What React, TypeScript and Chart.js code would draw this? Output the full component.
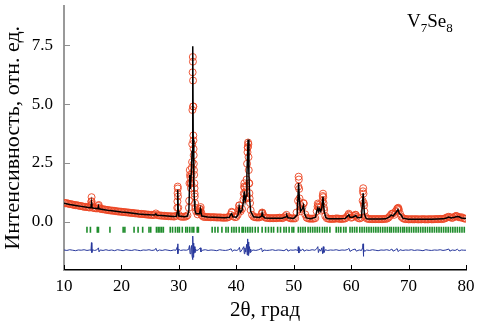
import React, { useEffect, useRef } from 'react';
import { Chart, registerables } from 'chart.js';
Chart.register(...registerables);

// Observed pattern: start/step grid (2θ from 10°, step 0.25°), intensities in rel. units
const obsStart = 10;
const obsStep = 0.25;
const obsGrid = [
  0.81, 0.79, 0.80, 0.77, 0.76, 0.75, 0.74, 0.72, 0.71, 0.71, 0.69, 0.68, 0.67, 0.66, 0.64, 0.64,
  0.63, 0.62, 0.61, 0.85, 0.60, 0.59, 0.58, 0.57, 0.68, 0.56, 0.55, 0.54, 0.53, 0.52, 0.51, 0.50,
  0.49, 0.48, 0.48, 0.47, 0.46, 0.45, 0.44, 0.44, 0.43, 0.42, 0.42, 0.41, 0.40, 0.40, 0.39, 0.38,
  0.38, 0.37, 0.36, 0.36, 0.35, 0.34, 0.34, 0.33, 0.33, 0.32, 0.31, 0.31, 0.30, 0.30, 0.29, 0.30,
  0.36, 0.29, 0.28, 0.27, 0.27, 0.26, 0.26, 0.25, 0.25, 0.24, 0.24, 0.24, 0.23, 0.23, 0.26, 0.87,
  0.30, 0.23, 0.22, 0.22, 0.22, 0.23, 0.28, 0.60, 1.90, 2.30, 4.90, 1.20, 0.45, 0.32, 0.40, 0.55,
  0.28, 0.22, 0.21, 0.21, 0.21, 0.20, 0.20, 0.20, 0.20, 0.20, 0.19, 0.19, 0.19, 0.19, 0.18, 0.18,
  0.18, 0.18, 0.19, 0.22, 0.30, 0.40, 0.24, 0.20, 0.21, 0.30, 0.70, 0.45, 0.55, 0.95, 1.20, 1.50,
  3.17, 1.64, 0.50, 0.30, 0.22, 0.20, 0.19, 0.19, 0.19, 0.22, 0.40, 0.26, 0.19, 0.17, 0.17, 0.16,
  0.16, 0.16, 0.16, 0.16, 0.16, 0.17, 0.18, 0.17, 0.16, 0.18, 0.24, 0.30, 0.21, 0.17, 0.15, 0.15,
  0.15, 0.15, 0.40, 0.90, 1.00, 0.45, 0.62, 0.78, 0.32, 0.18, 0.15, 0.14, 0.14, 0.14, 0.14, 0.16,
  0.45, 0.72, 0.60, 0.48, 0.90, 0.60, 0.25, 0.16, 0.14, 0.13, 0.13, 0.13, 0.13, 0.14, 0.15, 0.14,
  0.13, 0.13, 0.13, 0.14, 0.15, 0.22, 0.30, 0.28, 0.18, 0.20, 0.26, 0.30, 0.22, 0.16, 0.15, 0.18,
  0.90, 0.70, 0.22, 0.14, 0.13, 0.12, 0.12, 0.12, 0.12, 0.12, 0.12, 0.12, 0.12, 0.12, 0.12, 0.13,
  0.13, 0.14, 0.18, 0.25, 0.33, 0.35, 0.30, 0.45, 0.55, 0.55, 0.35, 0.22, 0.16, 0.13, 0.12, 0.12,
  0.11, 0.11, 0.12, 0.11, 0.11, 0.12, 0.11, 0.11, 0.11, 0.11, 0.12, 0.11, 0.11, 0.11, 0.11, 0.12,
  0.11, 0.11, 0.12, 0.12, 0.12, 0.12, 0.13, 0.12, 0.13, 0.14, 0.17, 0.20, 0.22, 0.20, 0.17, 0.18,
  0.22, 0.25, 0.23, 0.20, 0.19, 0.20, 0.16, 0.14, 0.14,
];

// Extra observed points recorded across the Bragg peaks [2θ, I]
const obsPeakPoints: [number, number][] = [
  [14.7, 0.70], [14.8, 1.05], [14.8, 0.88], [14.85, 0.75],
  [16.05, 0.72], [16.1, 0.60],
  [29.72, 0.60], [29.78, 1.22], [29.8, 1.50], [29.82, 1.42], [29.85, 1.08], [29.9, 0.60],
  [31.8, 0.90], [31.85, 1.64], [31.9, 2.20], [31.95, 2.00], [32.05, 1.64], [32.1, 1.43], [32.15, 1.64], [32.2, 2.0],
  [32.3, 2.54], [32.33, 3.30], [32.36, 4.75], [32.4, 6.35], [32.43, 7.00], [32.45, 6.80], [32.47, 6.00],
  [32.5, 4.90], [32.52, 3.67], [32.54, 3.46], [32.56, 3.10], [32.58, 2.83], [32.6, 2.47], [32.63, 2.20],
  [32.66, 2.00], [32.7, 1.64], [32.73, 1.43], [32.77, 1.08], [32.82, 0.80], [32.9, 0.60],
  [33.5, 0.45], [33.6, 0.55], [33.7, 0.45], [33.8, 0.63], [33.9, 0.40],
  [39.2, 0.43],
  [40.45, 0.55], [40.55, 0.70], [40.6, 0.50],
  [41.3, 1.20], [41.35, 1.50], [41.4, 1.64], [41.45, 1.45], [41.6, 1.00], [41.7, 1.30], [41.8, 1.80],
  [41.88, 2.47], [41.95, 2.96], [42.0, 3.17], [42.05, 3.37], [42.1, 3.30], [42.13, 2.75], [42.17, 2.20],
  [42.22, 1.64], [42.28, 1.22], [42.33, 1.00], [42.4, 0.80],
  [44.45, 0.35], [44.55, 0.38],
  [50.8, 1.50], [50.85, 1.92], [50.9, 1.80], [50.95, 1.40], [51.05, 0.75], [51.1, 0.54], [51.7, 0.80],
  [54.15, 0.65], [54.2, 0.78], [54.3, 0.62],
  [55.05, 1.10], [55.1, 1.20], [55.15, 1.05], [55.2, 0.80], [55.3, 0.50],
  [59.6, 0.35], [60.8, 0.30],
  [62.05, 1.30], [62.1, 1.43], [62.15, 1.20], [62.2, 0.80], [62.3, 0.45],
  [67.2, 0.36], [68.1, 0.58], [68.2, 0.60], [68.3, 0.50],
  [78.3, 0.25],
];

// Calculated profile [2θ, I]
const calcProfile: [number, number][] = [
  [10, 0.79], [11, 0.74], [12, 0.70], [13, 0.66], [14, 0.62], [14.6, 0.60], [14.7, 0.62], [14.78, 0.80],
  [14.86, 0.62], [15, 0.59], [15.9, 0.56], [16.0, 0.66], [16.1, 0.56], [17, 0.52], [18, 0.48], [19, 0.45],
  [20, 0.42], [21, 0.40], [22, 0.37], [23, 0.34], [24, 0.32], [25, 0.30], [25.8, 0.29], [26.0, 0.34],
  [26.2, 0.28], [27, 0.27], [28, 0.25], [29, 0.23], [29.6, 0.24], [29.7, 0.4], [29.8, 1.37], [29.9, 0.45],
  [30.0, 0.25], [31, 0.22], [31.5, 0.25], [31.75, 0.5], [31.9, 2.0], [32.0, 1.4], [32.2, 2.2], [32.3, 3.0],
  [32.42, 7.45], [32.5, 3.5], [32.6, 1.6], [32.7, 0.9], [32.8, 0.5], [33.0, 0.35], [33.6, 0.35], [33.75, 0.55],
  [33.85, 0.4], [34.0, 0.25], [35, 0.21], [36, 0.2], [37, 0.19], [38, 0.18], [38.8, 0.2], [39.0, 0.3],
  [39.2, 0.35], [39.4, 0.22], [40.0, 0.2], [40.3, 0.3], [40.5, 0.65], [40.7, 0.4], [41.0, 0.5], [41.2, 0.8],
  [41.4, 1.3], [41.55, 0.9], [41.7, 1.1], [41.85, 2.0], [42.05, 3.5], [42.2, 2.0], [42.35, 0.9], [42.5, 0.45],
  [43, 0.22], [44, 0.19], [44.4, 0.25], [44.5, 0.38], [44.6, 0.25], [45, 0.17], [46, 0.16], [47, 0.16],
  [48, 0.16], [48.7, 0.22], [48.8, 0.28], [49, 0.18], [50, 0.15], [50.6, 0.3], [50.85, 1.65], [51.0, 0.9],
  [51.2, 0.45], [51.5, 0.55], [51.7, 0.7], [51.9, 0.35], [52.2, 0.17], [53, 0.14], [53.8, 0.2], [54.0, 0.45],
  [54.2, 0.6], [54.35, 0.45], [54.5, 0.55], [54.7, 0.45], [54.9, 0.6], [55.1, 1.08], [55.3, 0.45], [55.6, 0.18],
  [56, 0.14], [57, 0.14], [58, 0.13], [59, 0.15], [59.6, 0.3], [59.8, 0.2], [60.3, 0.2], [60.8, 0.27],
  [61.1, 0.18], [61.8, 0.2], [62.1, 1.22], [62.3, 0.35], [62.6, 0.15], [63, 0.12], [64, 0.12], [65, 0.12],
  [66, 0.13], [66.6, 0.2], [67.0, 0.3], [67.3, 0.25], [67.8, 0.4], [68.15, 0.52], [68.4, 0.35], [68.7, 0.3],
  [69, 0.16], [70, 0.11], [72, 0.11], [74, 0.11], [75, 0.12], [76, 0.13], [76.6, 0.17], [77.0, 0.21],
  [77.4, 0.17], [78.0, 0.2], [78.4, 0.23], [78.8, 0.22], [79.2, 0.17], [80, 0.14],
];

// Difference curve (shifted) [2θ, I]
const diffProfile: [number, number][] = [
  [10, -1.19], [10.5, -1.21], [11, -1.18], [11.5, -1.2], [12, -1.22], [12.5, -1.19], [13, -1.2], [13.5, -1.18],
  [14, -1.21], [14.5, -1.19], [14.7, -1.2], [14.78, -0.88], [14.85, -1.3], [14.95, -1.18], [15.3, -1.21],
  [15.7, -1.19], [16.0, -1.1], [16.1, -1.27], [16.3, -1.19], [16.8, -1.21], [17.3, -1.18], [17.8, -1.21],
  [18.3, -1.19], [18.8, -1.22], [19.3, -1.18], [19.8, -1.2], [20.3, -1.22], [20.8, -1.18], [21.3, -1.2],
  [21.8, -1.21], [22.3, -1.18], [22.8, -1.2], [23.3, -1.22], [23.8, -1.19], [24.3, -1.2], [24.8, -1.18],
  [25.3, -1.21], [25.8, -1.19], [26.0, -1.12], [26.2, -1.24], [26.6, -1.19], [27.1, -1.21], [27.6, -1.18],
  [28.1, -1.2], [28.6, -1.22], [29.1, -1.19], [29.5, -1.2], [29.75, -1.05], [29.8, -0.93], [29.85, -1.35],
  [29.95, -1.16], [30.3, -1.21], [30.8, -1.19], [31.3, -1.2], [31.7, -1.17], [31.85, -1.0], [31.95, -1.35],
  [32.1, -1.15], [32.2, -1.0], [32.3, -1.45], [32.38, -0.7], [32.42, -1.6], [32.46, -0.6], [32.5, -1.5],
  [32.55, -0.9], [32.62, -1.35], [32.7, -1.05], [32.8, -1.3], [32.9, -1.15], [33.1, -1.22], [33.4, -1.18],
  [33.75, -1.1], [33.85, -1.27], [34.1, -1.2], [34.6, -1.18], [35.1, -1.21], [35.6, -1.19], [36.1, -1.2],
  [36.6, -1.22], [37.1, -1.18], [37.6, -1.2], [38.1, -1.21], [38.6, -1.19], [39.1, -1.14], [39.3, -1.25],
  [39.6, -1.19], [40.1, -1.21], [40.4, -1.16], [40.55, -1.08], [40.7, -1.28], [41.0, -1.18], [41.3, -1.05],
  [41.4, -1.35], [41.5, -1.1], [41.65, -1.28], [41.8, -0.95], [41.9, -1.4], [41.98, -0.72], [42.05, -1.42],
  [42.12, -0.85], [42.2, -1.35], [42.3, -1.05], [42.4, -1.3], [42.5, -1.15], [42.6, -1.25], [42.9, -1.19],
  [43.4, -1.21], [43.9, -1.18], [44.4, -1.12], [44.55, -1.27], [44.8, -1.19], [45.3, -1.21], [45.8, -1.2],
  [46.3, -1.18], [46.8, -1.21], [47.3, -1.19], [47.8, -1.2], [48.3, -1.22], [48.8, -1.15], [49.0, -1.24],
  [49.4, -1.19], [49.9, -1.2], [50.4, -1.18], [50.7, -1.22], [50.8, -1.05], [50.9, -1.32], [51.0, -1.12],
  [51.2, -1.23], [51.6, -1.15], [51.8, -1.24], [52.2, -1.19], [52.7, -1.21], [53.2, -1.18], [53.7, -1.2],
  [54.0, -1.14], [54.2, -1.05], [54.3, -1.3], [54.5, -1.16], [54.7, -1.24], [54.9, -1.1], [55.05, -1.35],
  [55.15, -1.05], [55.25, -1.3], [55.5, -1.18], [55.9, -1.21], [56.4, -1.19], [56.9, -1.2], [57.4, -1.18],
  [57.9, -1.21], [58.4, -1.19], [58.9, -1.2], [59.4, -1.17], [59.6, -1.12], [59.8, -1.25], [60.2, -1.19],
  [60.7, -1.15], [60.9, -1.24], [61.4, -1.19], [61.8, -1.21], [62.0, -1.1], [62.07, -0.93], [62.12, -1.46],
  [62.2, -1.15], [62.35, -1.25], [62.7, -1.19], [63.2, -1.21], [63.7, -1.18], [64.2, -1.2], [64.7, -1.22],
  [65.2, -1.19], [65.7, -1.2], [66.2, -1.18], [66.7, -1.21], [67.1, -1.15], [67.3, -1.24], [67.7, -1.19],
  [68.0, -1.13], [68.2, -1.26], [68.5, -1.18], [69.0, -1.21], [69.5, -1.19], [70, -1.2], [70.5, -1.18],
  [71, -1.21], [71.5, -1.19], [72, -1.2], [72.5, -1.22], [73, -1.18], [73.5, -1.2], [74, -1.21], [74.5, -1.19],
  [75, -1.2], [75.5, -1.18], [76, -1.21], [76.5, -1.19], [77, -1.15], [77.2, -1.24], [77.6, -1.19],
  [78.1, -1.21], [78.5, -1.16], [78.8, -1.23], [79.2, -1.19], [79.6, -1.2], [80, -1.2],
];

// Bragg reflection positions (2θ) and the level of the tick row
const braggPositions = [
  14.0, 14.6, 15.8, 16.0, 18.0, 20.3, 20.6, 22.2, 22.9, 23.7, 24.8, 25.1, 26.1, 26.4, 26.7, 27.0, 27.3,
  28.5, 28.9, 29.4, 29.8, 30.1, 30.6, 31.2, 31.5, 31.9, 32.3, 32.6, 33.2, 33.4, 35.8, 36.3, 36.8, 37.5,
  38.2, 38.6, 39.2, 39.6, 40.0, 40.5, 41.0, 41.2, 41.6, 42.0, 42.4, 42.8, 43.3, 43.8, 44.5, 45.1, 45.6,
  46.1, 46.5, 47.2, 47.7, 48.3, 48.7, 49.2, 49.7, 50.0, 50.8, 51.2, 51.6, 52.0, 52.5, 52.9, 53.3, 53.7,
  54.1, 54.5, 55.0, 55.4, 55.8, 56.3, 57.4, 57.8, 58.2, 58.7, 59.1, 59.8, 60.2, 60.6, 61.0, 61.5, 61.9,
  62.3, 62.7, 63.1, 63.5, 63.9, 64.3, 64.7, 65.1, 65.5, 65.9, 66.3, 66.7, 67.0, 67.4, 67.8, 68.2, 68.6,
  69.0, 69.3, 69.7, 70.1, 70.5, 70.9, 71.3, 71.7, 72.1, 72.5, 72.9, 73.3, 73.7, 74.1, 74.5, 74.9, 75.3,
  75.7, 76.1, 76.5, 76.9, 77.3, 77.7, 78.1, 78.5, 78.9, 79.3, 79.7,
];
const braggLevel = -0.33;

const xTickValues = [10, 20, 30, 40, 50, 60, 70, 80];
const yTickValues = [0, 2.5, 5, 7.5];
const xTitle = '2θ, град';
const yTitle = 'Интенсивность, отн. ед.';
const phaseMain = 'V';
const phaseSub1 = '7';
const phaseMid = 'Se';
const phaseSub2 = '8';

const SERIF = '"Liberation Serif", "Times New Roman", serif';

export default function App() {
  const ref = useRef<HTMLCanvasElement>(null);

  useEffect(() => {
    const obs = obsGrid
      .map((y, i) => ({ x: obsStart + i * obsStep, y }))
      .concat(obsPeakPoints.map(([x, y]) => ({ x, y })));
    const calc = calcProfile.map(([x, y]) => ({ x, y }));
    const diff = diffProfile.map(([x, y]) => ({ x, y }));
    const bragg = braggPositions.map((x) => ({ x, y: braggLevel }));

    const decor = {
      id: 'decor',
      afterDraw(chart: any) {
        const { ctx, chartArea: a, scales } = chart;
        const xs = scales.x;
        const ys = scales.y;
        ctx.save();
        ctx.lineWidth = 1;
        ctx.strokeStyle = '#000';
        for (const v of xTickValues) {
          const px = Math.round(xs.getPixelForValue(v)) + 0.5;
          ctx.beginPath();
          ctx.moveTo(px, a.bottom);
          ctx.lineTo(px, a.bottom - 5);
          ctx.stroke();
        }
        ctx.strokeStyle = '#8f8f8f';
        for (const v of yTickValues) {
          const py = Math.round(ys.getPixelForValue(v)) + 0.5;
          ctx.beginPath();
          ctx.moveTo(a.left, py);
          ctx.lineTo(a.left + 6, py);
          ctx.stroke();
        }
        // phase label
        ctx.fillStyle = '#000';
        ctx.textBaseline = 'alphabetic';
        ctx.textAlign = 'left';
        let cx = a.right - 59;
        const by = 27;
        ctx.font = `19px ${SERIF}`;
        ctx.fillText(phaseMain, cx, by);
        cx += ctx.measureText(phaseMain).width;
        ctx.font = `13px ${SERIF}`;
        ctx.fillText(phaseSub1, cx, by + 5);
        cx += ctx.measureText(phaseSub1).width;
        ctx.font = `19px ${SERIF}`;
        ctx.fillText(phaseMid, cx, by);
        cx += ctx.measureText(phaseMid).width;
        ctx.font = `13px ${SERIF}`;
        ctx.fillText(phaseSub2, cx, by + 5);
        ctx.restore();
      },
    };

    const chart = new Chart(ref.current!, {
      type: 'scatter',
      data: {
        datasets: [
          {
            label: 'calc',
            data: calc,
            showLine: true,
            borderColor: '#000000',
            borderWidth: 1.5,
            pointRadius: 0,
            order: 0,
          } as any,
          {
            label: 'obs',
            data: obs,
            showLine: false,
            pointStyle: 'circle',
            pointRadius: 3.5,
            pointBorderWidth: 1,
            pointBorderColor: 'rgba(236, 70, 36, 0.9)',
            pointBackgroundColor: 'rgba(0,0,0,0)',
            borderColor: 'rgba(236, 70, 36, 0.9)',
            backgroundColor: 'rgba(0,0,0,0)',
            order: 1,
          } as any,
          {
            label: 'bragg',
            data: bragg,
            showLine: false,
            pointStyle: 'line',
            pointRotation: 90,
            pointRadius: 3,
            pointBorderWidth: 1.6,
            pointBorderColor: '#1f8d2c',
            borderColor: '#1f8d2c',
            order: 2,
          } as any,
          {
            label: 'diff',
            data: diff,
            showLine: true,
            borderColor: '#28389c',
            borderWidth: 1,
            pointRadius: 0,
            order: 3,
          } as any,
        ],
      },
      options: {
        animation: false,
        responsive: false,
        devicePixelRatio: 1,
        events: [],
        layout: { padding: { left: 0, right: 18, top: 1, bottom: 0 } },
        plugins: {
          legend: { display: false },
          tooltip: { enabled: false },
        },
        scales: {
          x: {
            type: 'linear',
            min: 10,
            max: 80,
            grid: { display: false, drawTicks: false },
            border: { display: true, color: '#000', width: 1.5 },
            afterBuildTicks: (s: any) => {
              s.ticks = xTickValues.map((v) => ({ value: v }));
            },
            afterFit: (s: any) => {
              s.height = 57;
              s.paddingLeft = 0;
              s.paddingRight = 0;
            },
            ticks: {
              padding: 6,
              color: '#000',
              font: { family: SERIF, size: 17 },
              maxRotation: 0,
              callback: (v: any) => String(v),
            },
            title: {
              display: true,
              text: xTitle,
              color: '#000',
              font: { family: SERIF, size: 21 },
              padding: { top: 0, bottom: 4 },
            },
          },
          y: {
            type: 'linear',
            min: -2.04,
            max: 9.18,
            grid: { display: false, drawTicks: false },
            border: { display: true, color: '#999999', width: 2 },
            afterBuildTicks: (s: any) => {
              s.ticks = yTickValues.map((v) => ({ value: v }));
            },
            afterFit: (s: any) => {
              s.width = 64;
              s.paddingTop = 0;
              s.paddingBottom = 0;
            },
            ticks: {
              padding: 11,
              color: '#000',
              font: { family: SERIF, size: 17 },
              callback: (v: any) => Number(v).toFixed(1),
            },
            title: {
              display: true,
              text: yTitle,
              color: '#000',
              font: { family: SERIF, size: 22 },
              padding: { top: 0, bottom: 0 },
            },
          },
        },
      },
      plugins: [decor],
    });
    return () => chart.destroy();
  }, []);

  return (
    <div style={{ position: 'absolute', left: 0, top: 0, width: 484, height: 327, background: '#fff' }}>
      <canvas ref={ref} width={484} height={327} style={{ width: 484, height: 327, display: 'block' }} />
    </div>
  );
}
